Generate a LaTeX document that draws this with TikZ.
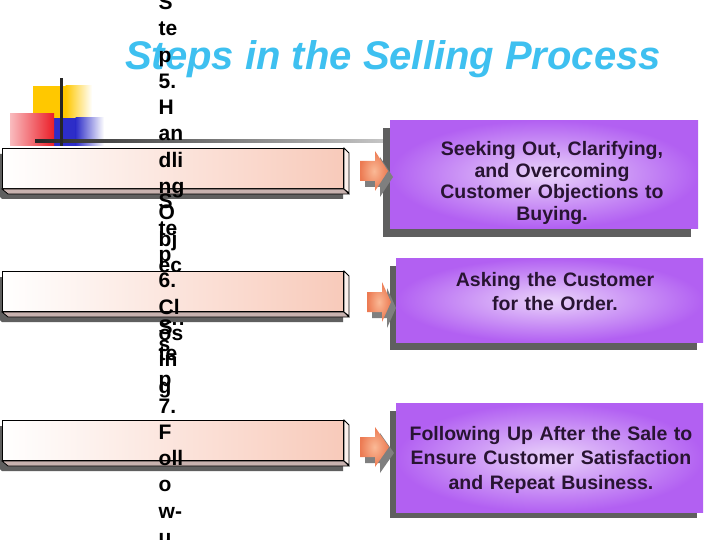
\documentclass[tikz,border=0pt]{standalone}
\usepackage{fontspec}
\setmainfont{Liberation Sans}
\definecolor{titlec}{RGB}{62,192,240}
\definecolor{ptextc}{RGB}{40,20,50}
\definecolor{pin}{RGB}{234,212,250}
\definecolor{pout}{RGB}{178,96,242}
\definecolor{lboxr}{RGB}{248,202,186}
\definecolor{bevB}{RGB}{200,178,175}
\definecolor{bevR}{RGB}{252,240,236}
\definecolor{shad}{RGB}{95,95,95}
\definecolor{arrin}{RGB}{250,185,150}
\definecolor{arrout}{RGB}{236,122,82}
\definecolor{yel}{RGB}{255,200,0}
\definecolor{redc}{RGB}{235,30,40}
\definecolor{bluc}{RGB}{45,45,200}
\tikzset{
  lbox/.style={draw=black, line width=1pt, left color=white, right color=lboxr, inner sep=0pt, minimum width=341pt, minimum height=40pt, anchor=north west},
  pbox/.style={inner sep=0pt, inner color=pin, outer color=pout, anchor=north west},
  ptext/.style={text width=320pt, align=center, inner sep=0pt, font=\bfseries\fontsize{19.5}{21.5}\selectfont, text=ptextc, anchor=base},
  stream/.style={inner sep=0pt, anchor=base west, font=\bfseries\fontsize{21}{26}\selectfont, text=black},
  blockarrow/.style={inner color=arrin, outer color=arrout},
  arrshadow/.style={fill=shad!80},
}
\newcommand\lboxdeco[1]{%
  \fill[shad] (-3,#1+6) -- (338,#1+6) -- (343,#1+11) -- (343,#1+51) -- (2,#1+51) -- (-3,#1+46) -- cycle;
}
\newcommand\lboxbevel[1]{%
  \draw[fill=bevB, line width=0.8pt] (#1.south west) -- (#1.south east) -- ++(5,5) -- ++(-341,0) -- cycle;
  \draw[fill=bevR, line width=0.8pt] (#1.north east) -- ++(5,5) -- ++(0,40) -- (#1.south east) -- cycle;
}
\newcommand\barrow[3]{% x, center y, tip x
  \fill[arrshadow] (#1+5,#2-10+6) -- (#1+15+5,#2-10+6) -- (#1+15+5,#2-20+6) -- (#3+5,#2+6) -- (#1+15+5,#2+20+6) -- (#1+15+5,#2+10+6) -- (#1+5,#2+10+6) -- cycle;
  \shade[blockarrow] (#1,#2-10) -- (#1+15,#2-10) -- (#1+15,#2-20) -- (#3,#2) -- (#1+15,#2+20) -- (#1+15,#2+10) -- (#1,#2+10) -- cycle;
}
\begin{document}
\begin{tikzpicture}[x=1pt,y=-1pt]
\useasboundingbox (0,0) rectangle (720,540);
\clip (0,0) rectangle (720,540);
\fill[white] (0,0) rectangle (720,540);

% decorative squares
\fill[yel] (33,86) rectangle (66,141);
\shade[left color=yel, right color=white] (65.5,86) rectangle (92,141);
\fill[bluc] (54,118) rectangle (76,146);
\shade[left color=bluc, right color=white] (75.5,118) rectangle (104,146);
\shade[left color=redc!30, right color=redc] (10,114) rectangle (54,146);
\shade[left color=black!85, right color=black!22] (35,139.5) rectangle (386,143);
\fill[black!85] (60,78) rectangle (62.5,146);

% title
\node[inner sep=0pt, anchor=base west, text=titlec, font=\bfseries\itshape\fontsize{40}{48}\selectfont] (title) at (125,70) {Steps in the Selling Process};

% left box 1
\lboxdeco{148}
\node[lbox] (L1) at (2,148) {};
\lboxbevel{L1}

% purple boxes
\fill[shad] (383,128) rectangle (691,237);
\node[pbox, minimum width=308pt, minimum height=108pt] (P1) at (390,120) {};
\node[ptext] (T1) at (552,155.7) {Seeking Out, Clarifying,\\and Overcoming\\Customer Objections to\\Buying.};

\fill[shad] (390,266) rectangle (697,350);
\node[pbox, minimum width=307pt, minimum height=84pt] (P2) at (396,258) {};
\node[ptext, font=\bfseries\fontsize{19.5}{23.3}\selectfont] (T2) at (555,286.7) {Asking the Customer\\for the Order.};

\fill[shad] (390,411) rectangle (697,518);
\node[pbox, minimum width=307pt, minimum height=109pt] (P3) at (396,403) {};
\node[ptext, font=\bfseries\fontsize{19.5}{24.7}\selectfont] (T3) at (551,440) {Following Up After the Sale to\\Ensure Customer Satisfaction\\and Repeat Business.};

% arrows
\barrow{360}{171}{388}
\barrow{367}{302}{391}
\barrow{360}{447}{389}

% stream A
\foreach \t [count=\i] in {S,te,p,5.,H,an,dli,ng,O,bj,ec,ti,on,s}
  \node[stream] (A\i) at (158.5,{9.5+26.3*(\i-1)}) {\t};

% left box 2
\lboxdeco{271}
\node[lbox] (L2) at (2,271) {};
\lboxbevel{L2}

% stream B
\foreach \t [count=\i] in {S,te,p,6.,Cl,os,in,g}
  \node[stream] (B\i) at (158.5,{209+26.3*(\i-1)}) {\t};

% left box 3
\lboxdeco{420}
\node[lbox] (L3) at (2,420) {};
\lboxbevel{L3}

% stream C
\foreach \t [count=\i] in {S,te,p,7.,F,oll,o,w-,u}
  \node[stream] (C\i) at (158.5,{334.1+26.3*(\i-1)}) {\t};
\end{tikzpicture}
\end{document}
